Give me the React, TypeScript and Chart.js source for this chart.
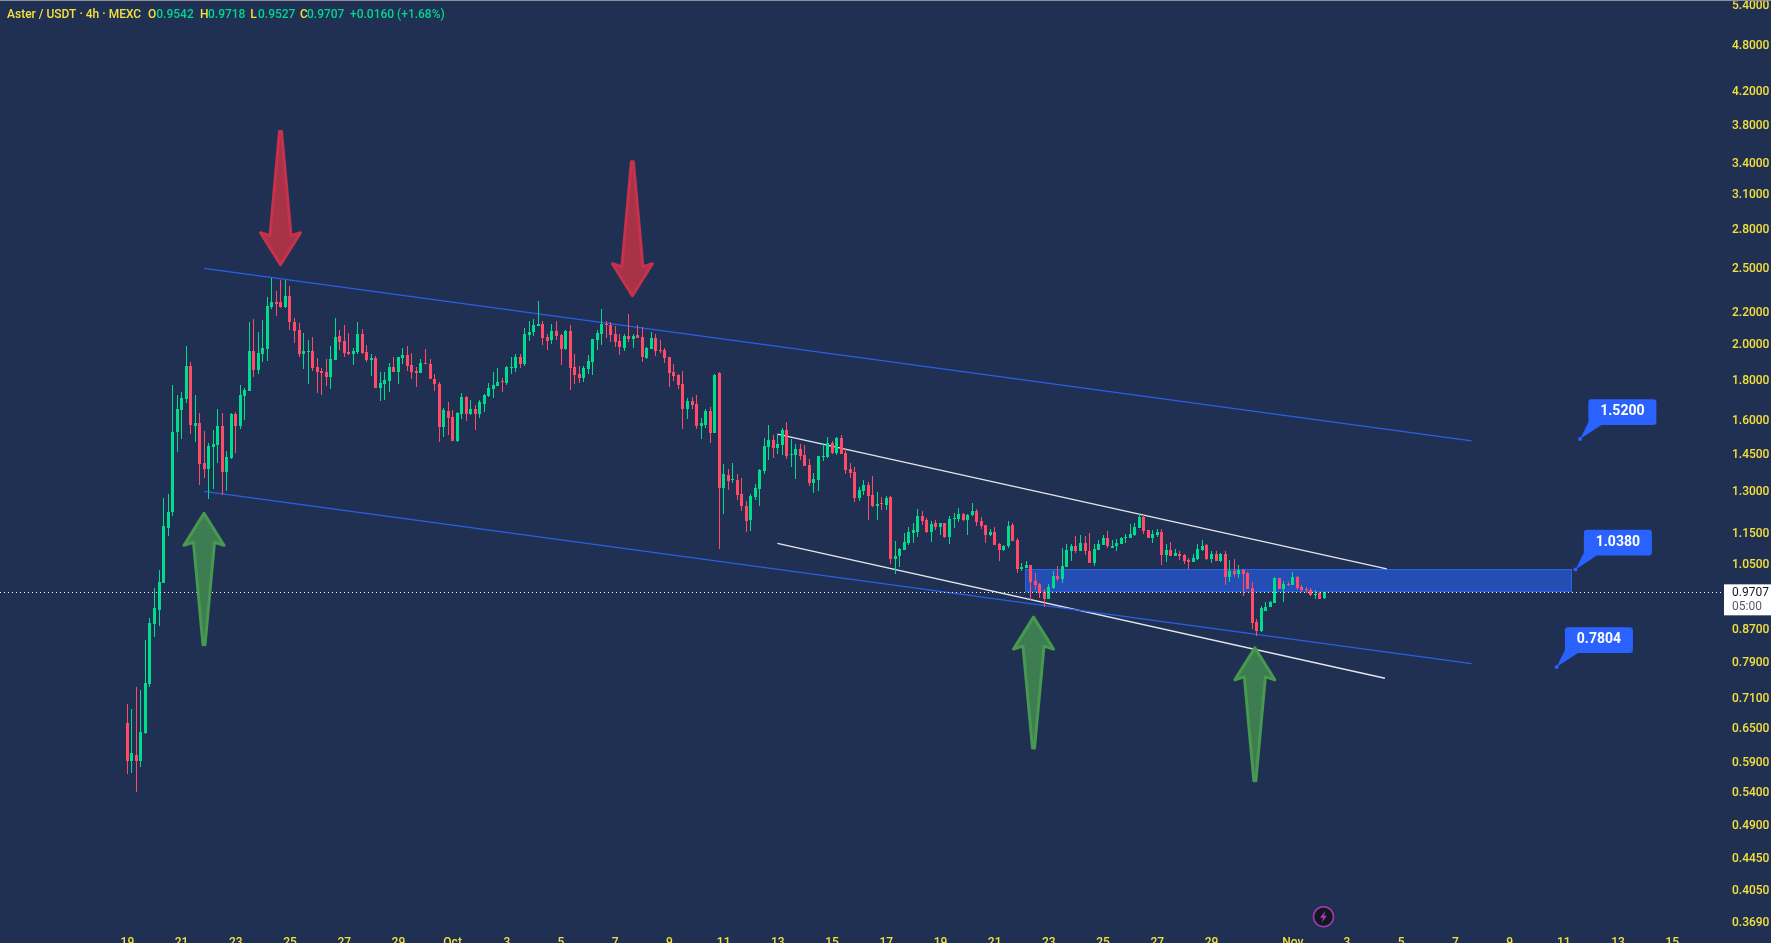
import { useEffect, useRef } from 'react';
import { Chart, registerables } from 'chart.js';

Chart.register(...registerables);

const candleOpen = [
  .663, .593, .604, .592, .644, .743, .886, .923, .998, 1.173, 1.229, 1.552, 1.655, 1.709, 1.883, 1.580, 1.594, 1.418, 1.393, 1.486,
  1.495, 1.580, 1.381, 1.438, 1.636, 1.580, 1.725, 1.750, 1.966, 1.861, 1.949, 1.977, 2.237, 2.270, 2.270, 2.237, 2.310, 2.141, 2.091, 1.949,
  1.961, 1.966, 1.877, 1.856, 1.850, 1.823, 1.916, 2.055, 2.025, 1.961, 1.949, 1.961, 2.067, 1.961, 1.916, 1.927, 1.765, 1.786, 1.802, 1.877,
  1.850, 1.927, 1.944, 1.888, 1.856, 1.845, 1.899, 1.894, 1.812, 1.786, 1.575, 1.650, 1.622, 1.512, 1.636, 1.719, 1.636, 1.660, 1.636, 1.684,
  1.725, 1.760, 1.776, 1.802, 1.791, 1.872, 1.872, 1.933, 1.894, 2.061, 2.079, 2.116, 2.128, 2.049, 2.031, 2.085, 2.061, 1.977, 2.085, 1.877,
  1.839, 1.818, 1.866, 1.905, 2.031, 2.067, 2.128, 2.122, 2.067, 2.025, 1.983, 2.055, 2.037, 2.061, 2.049, 1.927, 1.977, 2.043, 1.972, 1.972,
  1.933, 1.850, 1.834, 1.786, 1.660, 1.699, 1.684, 1.580, 1.584, 1.650, 1.547, 1.845, 1.317, 1.369, 1.349, 1.349, 1.295, 1.250, 1.200, 1.284,
  1.314, 1.385, 1.486, 1.516, 1.482, 1.495, 1.561, 1.451, 1.451, 1.477, 1.451, 1.409, 1.338, 1.349, 1.442, 1.442, 1.503, 1.460, 1.525, 1.460,
  1.393, 1.381, 1.280, 1.306, 1.329, 1.292, 1.250, 1.261, 1.254, 1.284, 1.071, 1.078, 1.100, 1.122, 1.156, 1.159, 1.214, 1.200, 1.159, 1.190,
  1.176, 1.190, 1.142, 1.203, 1.203, 1.221, 1.200, 1.218, 1.232, 1.197, 1.183, 1.149, 1.159, 1.119, 1.100, 1.110, 1.183, 1.132, 1.040, 1.043,
  1.053, 1.004, .995, .973, .953, .984, 1.019, 1.010, 1.046, 1.094, 1.110, 1.094, 1.122, 1.097, 1.059, 1.100, 1.116, 1.139, 1.106, 1.110,
  1.119, 1.139, 1.139, 1.149, 1.173, 1.211, 1.166, 1.139, 1.149, 1.159, 1.084, 1.100, 1.078, 1.087, 1.084, 1.068, 1.062, 1.071, 1.100, 1.116,
  1.071, 1.087, 1.065, 1.087, 1.016, 1.034, 1.025, 1.037, 1.028, .984, .891, .868, .920, .929, .942, 1.013, .981, .995, .992, 1.016,
  .987, .981, .978, .964, .970, .9542,
];
const candleHigh = [
  .701, .691, .736, .730, .845, .901, .984, 1.037, 1.280, 1.295, 1.781, 1.730, 1.745, 1.996, 1.905, 1.730, 1.641, 1.556, 1.503, 1.561,
  1.660, 1.641, 1.469, 1.641, 1.646, 1.781, 1.765, 2.141, 2.159, 2.079, 2.153, 2.303, 2.434, 2.343, 2.420, 2.420, 2.378, 2.166, 2.134, 2.073,
  2.031, 2.049, 1.927, 1.872, 1.922, 1.996, 2.166, 2.091, 2.122, 2.073, 1.983, 2.141, 2.097, 2.002, 1.949, 1.938, 1.850, 1.850, 1.899, 1.933,
  1.933, 1.983, 1.996, 1.955, 1.877, 1.922, 1.977, 1.922, 1.839, 1.797, 1.665, 1.694, 1.655, 1.646, 1.740, 1.725, 1.704, 1.679, 1.704, 1.735,
  1.791, 1.850, 1.872, 1.818, 1.883, 1.933, 1.949, 1.949, 2.103, 2.147, 2.159, 2.276, 2.147, 2.067, 2.128, 2.147, 2.067, 2.091, 2.122, 1.949,
  1.883, 1.883, 1.944, 2.037, 2.091, 2.224, 2.147, 2.141, 2.116, 2.067, 2.067, 2.191, 2.067, 2.122, 2.109, 1.989, 2.079, 2.067, 2.031, 1.983,
  1.933, 1.894, 1.839, 1.856, 1.714, 1.719, 1.730, 1.617, 1.660, 1.670, 1.839, 1.850, 1.414, 1.393, 1.418, 1.373, 1.357, 1.269, 1.295, 1.333,
  1.393, 1.525, 1.584, 1.538, 1.538, 1.570, 1.598, 1.520, 1.499, 1.499, 1.495, 1.434, 1.377, 1.447, 1.503, 1.529, 1.512, 1.529, 1.538, 1.477,
  1.418, 1.401, 1.321, 1.349, 1.341, 1.365, 1.303, 1.284, 1.288, 1.288, 1.129, 1.106, 1.156, 1.176, 1.190, 1.240, 1.232, 1.207, 1.197, 1.200,
  1.190, 1.190, 1.214, 1.225, 1.243, 1.225, 1.221, 1.261, 1.240, 1.211, 1.183, 1.169, 1.176, 1.122, 1.116, 1.197, 1.190, 1.139, 1.059, 1.065,
  1.053, 1.028, .998, .981, .995, 1.034, 1.049, 1.106, 1.119, 1.119, 1.145, 1.149, 1.145, 1.156, 1.119, 1.132, 1.149, 1.162, 1.132, 1.135,
  1.142, 1.152, 1.186, 1.190, 1.221, 1.218, 1.166, 1.166, 1.169, 1.169, 1.119, 1.126, 1.103, 1.094, 1.087, 1.074, 1.087, 1.119, 1.132, 1.119,
  1.097, 1.094, 1.090, 1.097, 1.068, 1.071, 1.053, 1.040, 1.031, 1.001, .899, .934, .945, .947, 1.016, 1.013, 1.004, 1.001, 1.031, 1.019,
  .992, .987, .984, .976, .973, .9718,
];
const candleLow = [
  .571, .573, .542, .582, .642, .736, .852, .880, .998, 1.145, 1.214, 1.464, 1.520, 1.689, 1.543, 1.507, 1.329, 1.357, 1.277, 1.314,
  1.418, 1.292, 1.306, 1.434, 1.460, 1.566, 1.608, 1.750, 1.823, 1.839, 1.905, 1.910, 2.224, 2.178, 2.230, 2.230, 2.091, 2.013, 1.933, 1.866,
  1.786, 1.856, 1.740, 1.730, 1.776, 1.760, 1.916, 1.972, 1.933, 1.944, 1.888, 1.949, 1.949, 1.905, 1.828, 1.765, 1.699, 1.704, 1.745, 1.850,
  1.786, 1.894, 1.856, 1.812, 1.770, 1.845, 1.894, 1.812, 1.750, 1.507, 1.529, 1.538, 1.512, 1.507, 1.612, 1.603, 1.631, 1.561, 1.617, 1.646,
  1.719, 1.714, 1.776, 1.745, 1.781, 1.839, 1.850, 1.872, 1.883, 2.025, 2.055, 2.116, 2.002, 1.972, 2.008, 2.031, 1.888, 1.972, 1.755, 1.786,
  1.791, 1.797, 1.839, 1.834, 1.972, 2.002, 2.043, 2.019, 1.989, 1.944, 1.966, 2.019, 1.983, 2.043, 1.905, 1.922, 1.977, 1.938, 1.955, 1.899,
  1.770, 1.802, 1.760, 1.566, 1.612, 1.660, 1.566, 1.520, 1.570, 1.503, 1.547, 1.103, 1.221, 1.310, 1.338, 1.273, 1.232, 1.159, 1.162, 1.273,
  1.250, 1.373, 1.430, 1.438, 1.456, 1.451, 1.434, 1.401, 1.353, 1.430, 1.405, 1.325, 1.299, 1.306, 1.426, 1.438, 1.456, 1.451, 1.456, 1.373,
  1.357, 1.265, 1.269, 1.292, 1.200, 1.247, 1.200, 1.236, 1.236, 1.056, 1.025, 1.046, 1.100, 1.116, 1.122, 1.142, 1.183, 1.156, 1.126, 1.166,
  1.149, 1.139, 1.119, 1.173, 1.193, 1.197, 1.149, 1.214, 1.180, 1.169, 1.122, 1.145, 1.116, 1.065, 1.094, 1.106, 1.129, 1.028, 1.034, 1.043,
  .950, .978, .955, .931, .953, .981, 1.004, .998, 1.046, 1.065, 1.090, 1.094, 1.084, 1.059, 1.049, 1.100, 1.116, 1.106, 1.106, 1.094,
  1.119, 1.122, 1.139, 1.145, 1.173, 1.152, 1.139, 1.122, 1.142, 1.053, 1.062, 1.078, 1.078, 1.068, 1.056, 1.040, 1.062, 1.068, 1.094, 1.068,
  1.059, 1.065, 1.062, .992, 1.001, 1.016, 1.013, .961, .981, .873, .855, .865, .918, .929, .942, .981, .945, .990, .992, .978,
  .973, .970, .961, .953, .953, .9527,
];
const candleClose = [
  .593, .606, .592, .646, .745, .888, .926, 1.001, 1.180, 1.229, 1.552, 1.660, 1.714, 1.883, 1.584, 1.594, 1.414, 1.393, 1.490, 1.499,
  1.580, 1.381, 1.442, 1.636, 1.580, 1.730, 1.755, 1.966, 1.861, 1.955, 1.983, 2.243, 2.270, 2.257, 2.237, 2.310, 2.141, 2.085, 1.949, 1.966,
  1.966, 1.872, 1.850, 1.845, 1.823, 1.922, 2.049, 2.019, 1.955, 1.949, 1.966, 2.067, 1.955, 1.916, 1.927, 1.765, 1.791, 1.807, 1.877, 1.850,
  1.933, 1.944, 1.883, 1.850, 1.845, 1.899, 1.894, 1.812, 1.786, 1.575, 1.655, 1.617, 1.512, 1.641, 1.719, 1.636, 1.660, 1.636, 1.694, 1.730,
  1.765, 1.781, 1.797, 1.797, 1.877, 1.877, 1.933, 1.894, 2.067, 2.079, 2.122, 2.128, 2.043, 2.025, 2.085, 2.055, 1.977, 2.085, 1.872, 1.834,
  1.818, 1.872, 1.910, 2.037, 2.073, 2.128, 2.122, 2.061, 2.019, 1.989, 2.055, 2.037, 2.055, 2.043, 1.933, 1.983, 2.043, 1.966, 1.966, 1.927,
  1.845, 1.828, 1.781, 1.660, 1.699, 1.679, 1.580, 1.594, 1.650, 1.547, 1.834, 1.317, 1.373, 1.345, 1.353, 1.292, 1.250, 1.197, 1.288, 1.317,
  1.389, 1.490, 1.516, 1.482, 1.499, 1.561, 1.447, 1.456, 1.477, 1.447, 1.405, 1.338, 1.353, 1.447, 1.447, 1.503, 1.460, 1.525, 1.456, 1.389,
  1.377, 1.280, 1.310, 1.329, 1.288, 1.250, 1.258, 1.258, 1.280, 1.071, 1.081, 1.103, 1.126, 1.159, 1.166, 1.214, 1.197, 1.159, 1.186, 1.176,
  1.190, 1.142, 1.203, 1.207, 1.221, 1.200, 1.218, 1.232, 1.193, 1.180, 1.149, 1.159, 1.116, 1.100, 1.113, 1.180, 1.129, 1.040, 1.046, 1.053,
  1.001, .992, .970, .953, .987, 1.019, 1.010, 1.049, 1.100, 1.110, 1.094, 1.122, 1.094, 1.059, 1.103, 1.119, 1.139, 1.110, 1.113, 1.122,
  1.139, 1.142, 1.152, 1.176, 1.211, 1.162, 1.139, 1.152, 1.159, 1.084, 1.100, 1.078, 1.090, 1.081, 1.065, 1.062, 1.074, 1.103, 1.113, 1.071,
  1.087, 1.065, 1.087, 1.016, 1.034, 1.025, 1.037, 1.025, .981, .888, .868, .926, .929, .945, 1.013, .981, .995, .992, 1.016, .984,
  .978, .976, .964, .967, .953, .9707,
];

const priceTicks = [5.4, 4.8, 4.2, 3.8, 3.4, 3.1, 2.8, 2.5, 2.2, 2.0, 1.8, 1.6, 1.45, 1.3, 1.15, 1.05, 0.87, 0.79, 0.71, 0.65, 0.59, 0.54, 0.49, 0.445, 0.405, 0.369];
const timeTickIndex = [0, 12, 24, 36, 48, 60, 72, 84, 96, 108, 120, 132, 144, 156, 168, 180, 192, 204, 216, 228, 240, 258, 270, 282, 294, 306, 318, 330, 342];
const timeTickLabels = ['19', '21', '23', '25', '27', '29', 'Oct', '3', '5', '7', '9', '11', '13', '15', '17', '19', '21', '23', '25', '27', '29', 'Nov', '3', '5', '7', '9', '11', '13', '15'];

const lastPrice = 0.9707;
const lastCountdown = '05:00';

// trend lines as [startIndex, startPrice, endIndex, endPrice]
const blueUpper = [17, 2.504, 297.6, 1.512];
const blueLower = [17, 1.304, 297.6, 0.788];
const whiteUpper = [143.9, 1.542, 278.8, 1.04];
const whiteLower = [143.9, 1.12, 278.4, 0.755];

const zoneIndex = [198.8, 319.7];
const zonePrice = [1.038, 0.972];

// arrows: index, tip price, tail price
const redArrows = [[33.9, 2.516, 3.753], [111.8, 2.298, 3.434]];
const greenArrows = [[16.96, 1.23, 0.829], [200.6, 0.908, 0.613], [249.6, 0.83, 0.557]];

const calloutIndex = [321.6, 320.6, 316.4];
const calloutPrice = [1.52, 1.038, 0.7804];

const headerLabels = ['Aster / USDT · 4h · MEXC', 'O', '0.9542', 'H', '0.9718', 'L', '0.9527', 'C', '0.9707', '+0.0160 (+1.68%)'];
const headerX = [7, 148, 156.3, 200, 208, 250.3, 258, 300, 307, 350];
const headerColors = ['#f4e13c', '#f4e13c', '#00d68f', '#f4e13c', '#00d68f', '#f4e13c', '#00d68f', '#f4e13c', '#00d68f', '#00d68f'];

const BG = '#1f3053';
const UP = '#00dc8c';
const DOWN = '#ff4a68';
const FONT = 'Roboto, "Liberation Sans", sans-serif';

const colors = candleOpen.map((o, i) => (candleClose[i] >= o ? UP : DOWN));
const wickData = candleHigh.map((h, i) => ({ x: i, y: [candleLow[i], h] }));
const bodyData = candleOpen.map((o, i) => ({ x: i, y: [Math.min(o, candleClose[i]), Math.max(o, candleClose[i])] }));

const trend = (t: number[], color: string) => ({
  type: 'line' as const,
  data: [{ x: t[0], y: t[1] }, { x: t[2], y: t[3] }],
  borderColor: color,
  borderWidth: 1.3,
  pointRadius: 0,
  order: 3,
});

const arrowPath = (ctx: any, x: number, tip: number, tail: number) => {
  const d = Math.sign(tail - tip);
  ctx.beginPath();
  ctx.moveTo(x, tip + d * 2);
  ctx.lineTo(x + 20, tip + d * 34);
  ctx.lineTo(x + 10.5, tip + d * 31);
  ctx.lineTo(x + 1, tail - d * 1.5);
  ctx.lineTo(x - 1, tail - d * 1.5);
  ctx.lineTo(x - 10.5, tip + d * 31);
  ctx.lineTo(x - 20, tip + d * 34);
  ctx.closePath();
};

// candles and the dotted price line sit on whole pixels in the reference
const snapMarks = {
  id: 'snapMarks',
  beforeDatasetDraw(chart: any, args: any) {
    const meta = args.meta;
    if (meta.type === 'bar') {
      meta.data.forEach((el: any) => {
        el.x = Math.round(el.x - 0.5) + 0.5;
        el.y = Math.round(el.y);
        el.base = Math.round(el.base);
      });
    } else if (meta.dataset && meta.dataset.options.borderDash.length) {
      meta.data.forEach((el: any) => {
        el.y = Math.round(el.y - 0.5) + 0.5;
      });
    }
  },
};

const zonePlugin = {
  id: 'zone',
  beforeDatasetsDraw(chart: any) {
    const { ctx, scales } = chart;
    const x0 = scales.x.getPixelForValue(zoneIndex[0]);
    const x1 = scales.x.getPixelForValue(zoneIndex[1]);
    const y0 = scales.y.getPixelForValue(zonePrice[0]);
    const y1 = scales.y.getPixelForValue(zonePrice[1]);
    ctx.save();
    ctx.fillStyle = '#254eb5';
    ctx.fillRect(x0, y0, x1 - x0, y1 - y0);
    ctx.strokeStyle = '#2d62e8';
    ctx.lineWidth = 1;
    ctx.strokeRect(Math.round(x0) + 0.5, Math.round(y0) + 0.5, Math.round(x1 - x0), Math.round(y1 - y0));
    ctx.restore();
  },
};

const overlayPlugin = {
  id: 'overlay',
  afterDatasetsDraw(chart: any) {
    const { ctx, scales, width } = chart;
    const px = (i: number) => scales.x.getPixelForValue(i);
    const py = (p: number) => scales.y.getPixelForValue(p);
    ctx.save();

    // top edge
    ctx.fillStyle = '#8b909c';
    ctx.fillRect(0, 0, width, 1);

    // arrows
    ctx.lineJoin = 'round';
    ctx.lineWidth = 3;
    redArrows.forEach(([i, tip, tail]) => {
      arrowPath(ctx, px(i), py(tip), py(tail));
      ctx.fillStyle = '#a83349';
      ctx.fill();
      ctx.strokeStyle = '#c6324b';
      ctx.stroke();
    });
    greenArrows.forEach(([i, tip, tail]) => {
      arrowPath(ctx, px(i), py(tip), py(tail));
      ctx.fillStyle = '#3e7d51';
      ctx.fill();
      ctx.strokeStyle = '#46994f';
      ctx.stroke();
    });

    // price callouts
    calloutPrice.forEach((p, n) => {
      const x = px(calloutIndex[n]);
      const y = py(p);
      const left = x + 8.3;
      const top = y - 39.7;
      ctx.fillStyle = '#2962ff';
      ctx.beginPath();
      ctx.arc(x, y, 2, 0, Math.PI * 2);
      ctx.fill();
      ctx.beginPath();
      ctx.moveTo(x, y);
      ctx.lineTo(left, top + 23);
      ctx.lineTo(left + 13, top + 25.7);
      ctx.closePath();
      ctx.fill();
      ctx.beginPath();
      ctx.roundRect(left, top, 68, 25.7, 3);
      ctx.fill();
      ctx.fillStyle = '#ffffff';
      ctx.font = `bold 14px ${FONT}`;
      ctx.textAlign = 'center';
      ctx.textBaseline = 'middle';
      ctx.fillText(p.toFixed(4), left + 34, top + 12.5);
    });

    // flash icon
    const ix = 1323.5;
    const iy = 916.7;
    ctx.beginPath();
    ctx.arc(ix, iy, 10, 0, Math.PI * 2);
    ctx.fillStyle = '#131722';
    ctx.fill();
    ctx.lineWidth = 1.5;
    ctx.strokeStyle = '#a33bb4';
    ctx.stroke();
    ctx.beginPath();
    ctx.moveTo(ix + 2, iy - 6);
    ctx.lineTo(ix - 3.5, iy + 1);
    ctx.lineTo(ix - 0.5, iy + 1);
    ctx.lineTo(ix - 2, iy + 6);
    ctx.lineTo(ix + 3.5, iy - 1);
    ctx.lineTo(ix + 0.5, iy - 1);
    ctx.closePath();
    ctx.fillStyle = '#a33bb4';
    ctx.fill();

    // last price tag
    const tagY = py(lastPrice);
    ctx.fillStyle = '#ffffff';
    ctx.fillRect(scales.y.left, tagY - 8, width - scales.y.left, 31);
    ctx.textAlign = 'left';
    ctx.textBaseline = 'middle';
    ctx.font = `12px ${FONT}`;
    ctx.fillStyle = '#131722';
    ctx.fillText(lastPrice.toFixed(4), scales.y.left + 8, tagY + 1);
    ctx.fillStyle = '#555a66';
    ctx.fillText(lastCountdown, scales.y.left + 8, tagY + 15);

    // header text
    ctx.font = `500 12px ${FONT}`;
    ctx.textBaseline = 'middle';
    headerLabels.forEach((text, i) => {
      ctx.fillStyle = headerColors[i];
      ctx.fillText(text, headerX[i], 15);
    });
    ctx.restore();
  },
};

const noPadding = (scale: any) => {
  scale.paddingTop = 0;
  scale.paddingBottom = 0;
  scale.paddingLeft = 0;
  scale.paddingRight = 0;
};

const App = () => {
  const chartRef = useRef<HTMLCanvasElement | null>(null);

  useEffect(() => {
    document.body.style.margin = '0';
    document.body.style.background = BG;
    const ctx = chartRef.current!.getContext('2d')!;

    const myChart = new Chart(ctx, {
      type: 'bar',
      data: {
        datasets: [
          {
            data: bodyData as any,
            backgroundColor: colors,
            barThickness: 3,
            minBarLength: 1,
            grouped: false,
            inflateAmount: 0,
            order: 1,
          } as any,
          {
            data: wickData as any,
            backgroundColor: colors,
            barThickness: 1,
            grouped: false,
            inflateAmount: 0,
            order: 2,
          } as any,
          trend(blueUpper, '#2a5fe8'),
          trend(blueLower, '#2a5fe8'),
          trend(whiteUpper, '#e4e6ea'),
          trend(whiteLower, '#e4e6ea'),
          {
            type: 'line',
            data: [{ x: -28.2, y: lastPrice }, { x: 353.46, y: lastPrice }],
            borderColor: '#ffffff',
            borderWidth: 1,
            borderDash: [1, 3],
            pointRadius: 0,
            order: 0,
          } as any,
        ],
      },
      options: {
        responsive: false,
        animation: false,
        devicePixelRatio: 1,
        layout: { padding: 0 },
        plugins: { legend: { display: false }, tooltip: { enabled: false }, title: { display: false } },
        scales: {
          x: {
            type: 'linear',
            min: -28.2,
            max: 353.46,
            offset: false,
            grid: { display: false, drawTicks: false },
            border: { display: false },
            ticks: {
              autoSkip: false,
              maxRotation: 0,
              padding: 5,
              color: '#f4e13c',
              font: { family: FONT, size: 12, weight: '500' },
              callback: (v: any) => timeTickLabels[timeTickIndex.indexOf(Number(v))],
            },
            afterBuildTicks: (scale: any) => {
              scale.ticks = timeTickIndex.map((value) => ({ value }));
            },
            afterFit: (scale: any) => {
              scale.height = 12;
              noPadding(scale);
            },
          },
          y: {
            type: 'logarithmic',
            position: 'right',
            min: 0.3605,
            max: 5.489,
            offset: false,
            grid: { display: false, drawTicks: false },
            border: { display: false },
            ticks: {
              autoSkip: false,
              maxRotation: 0,
              padding: 8,
              color: '#f4e13c',
              font: { family: FONT, size: 12, weight: '500' },
              callback: (v: any) => Number(v).toFixed(4),
            },
            afterBuildTicks: (scale: any) => {
              scale.ticks = priceTicks.map((value) => ({ value }));
            },
            afterFit: (scale: any) => {
              scale.width = 47;
              noPadding(scale);
            },
          },
        },
      },
      plugins: [snapMarks, zonePlugin, overlayPlugin],
    } as any);

    return () => {
      myChart.destroy();
    };
  }, []);

  return (
    <div style={{ width: 1771, height: 943, background: BG, overflow: 'hidden' }}>
      <canvas ref={chartRef} width={1771} height={943} style={{ display: 'block' }} />
    </div>
  );
};

export default App;
